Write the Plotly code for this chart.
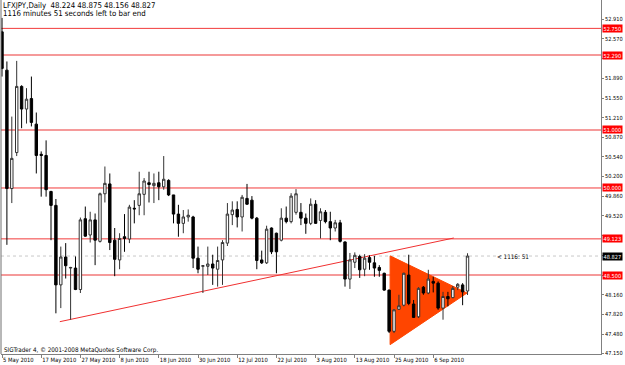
import plotly.graph_objects as go

# ---- data ----
opens = [52.69, 52.03, 49.99, 50.61, 51.75, 51.36, 51.54, 51.10, 50.58, 50.56,
         49.94, 49.70, 48.33, 48.81, 48.62, 48.62, 48.25, 49.47, 49.19, 49.45,
         49.08, 49.90, 50.07, 49.10, 48.76, 49.16, 49.12, 49.65, 49.70, 49.89,
         50.09, 50.04, 50.09, 50.02, 50.13, 49.88, 49.55, 49.39, 49.50, 49.50,
         48.79, 48.65, 48.65, 48.69, 48.60, 48.76, 49.05, 49.54, 49.63, 49.50,
         49.82, 49.79, 49.48, 48.76, 48.71, 49.31, 49.22, 49.10, 49.48, 49.42,
         49.58, 49.58, 49.48, 49.39, 49.72, 49.44, 49.58, 49.42, 49.31, 49.40,
         49.07, 48.43, 48.72, 48.82, 48.60, 48.80, 48.71, 48.63, 48.53, 48.24,
         47.53, 47.91, 47.98, 48.50, 48.00, 47.78, 48.29, 48.19, 48.39, 48.36,
         47.93, 48.13, 48.11, 48.29, 48.33, 48.224]
highs = [52.93, 52.18, 51.23, 52.19, 51.77, 51.72, 51.92, 51.30, 50.63, 50.82,
         49.95, 49.81, 48.99, 49.05, 48.64, 48.82, 49.49, 49.68, 49.59, 49.56,
         49.92, 50.37, 50.25, 49.31, 49.22, 49.55, 49.71, 49.79, 50.28, 50.17,
         50.28, 50.25, 50.28, 50.55, 50.15, 49.88, 49.71, 49.62, 49.63, 49.52,
         48.99, 48.67, 48.99, 48.85, 48.99, 49.10, 49.74, 49.77, 49.77, 49.88,
         50.07, 49.86, 49.50, 48.92, 49.35, 49.32, 49.23, 49.65, 49.68, 49.91,
         49.98, 49.74, 49.56, 49.82, 49.79, 49.65, 49.62, 49.59, 49.45, 49.45,
         49.08, 48.88, 48.89, 48.85, 48.86, 48.84, 48.83, 48.67, 48.54, 48.25,
         47.91, 48.16, 48.54, 48.85, 48.07, 48.29, 48.31, 48.59, 48.47, 48.39,
         48.21, 48.21, 48.31, 48.36, 48.36, 48.875]
lows = [51.92, 49.02, 49.74, 50.55, 51.03, 51.11, 51.06, 50.25, 49.85, 49.85,
        49.10, 47.84, 47.93, 48.44, 47.73, 48.24, 48.19, 49.16, 49.06, 48.67,
        49.06, 49.75, 48.93, 48.48, 48.60, 48.90, 49.05, 49.39, 49.53, 49.53,
        49.75, 49.74, 49.79, 49.97, 49.86, 49.39, 49.16, 49.22, 49.42, 48.62,
        48.53, 48.19, 48.50, 48.33, 48.30, 48.33, 49.00, 49.36, 49.32, 49.25,
        49.71, 49.46, 48.60, 48.69, 48.69, 48.86, 48.53, 49.08, 49.39, 49.39,
        49.54, 49.36, 49.21, 49.36, 49.38, 49.13, 49.39, 49.10, 49.25, 49.06,
        48.30, 48.26, 48.62, 48.45, 48.48, 48.59, 48.47, 48.47, 48.23, 47.50,
        47.50, 47.90, 47.96, 47.98, 47.76, 47.76, 48.16, 48.17, 48.20, 47.90,
        47.73, 47.96, 48.10, 48.24, 47.98, 48.156]
closes = [52.06, 49.99, 50.51, 51.75, 51.36, 51.53, 51.13, 50.56, 50.56, 49.97,
          49.70, 48.33, 48.81, 48.66, 48.63, 48.25, 49.45, 49.17, 49.45, 49.10,
          49.90, 50.08, 49.06, 48.77, 49.13, 49.13, 49.67, 49.64, 49.90, 50.12,
          50.06, 50.08, 50.02, 50.15, 49.88, 49.55, 49.39, 49.50, 49.53, 48.79,
          48.60, 48.66, 48.69, 48.62, 48.75, 49.06, 49.55, 49.62, 49.50, 49.84,
          49.72, 49.48, 48.75, 48.71, 49.29, 48.90, 48.90, 49.48, 49.42, 49.86,
          49.90, 49.48, 49.39, 49.72, 49.39, 49.59, 49.42, 49.31, 49.40, 49.08,
          48.43, 48.76, 48.84, 48.59, 48.79, 48.72, 48.62, 48.58, 48.24, 47.53,
          47.90, 47.97, 48.53, 48.01, 47.77, 48.27, 48.19, 48.43, 48.36, 47.93,
          48.13, 48.09, 48.27, 48.34, 48.21, 48.827]

date_labels = ["5 May 2010", "17 May 2010", "27 May 2010", "8 Jun 2010",
               "18 Jun 2010", "30 Jun 2010", "12 Jul 2010", "22 Jul 2010",
               "3 Aug 2010", "13 Aug 2010", "25 Aug 2010", "6 Sep 2010"]
bars_per_label = 8

price_ticks = [52.910, 52.570, 52.230, 51.890, 51.550, 51.210, 50.870, 50.540,
               50.200, 49.860, 49.520, 49.180, 48.840, 48.500, 48.160, 47.820,
               47.480, 47.150]
# ticks whose labels are covered by the price boxes in the reference
covered_ticks = [52.230, 49.180, 48.840, 48.500]

hlines_strong = [52.750, 50.000, 49.123]
hlines_light = [52.290, 51.000, 48.500]
current_price = 48.827

trend_x = [11.8, 92.2]
trend_y = [47.696, 49.138]
tri_x = [79.2, 79.2, 94.9]
tri_y = [48.83, 47.30, 48.19]

title_line1 = "LFXJPY,Daily  48.224 48.875 48.156 48.827"
title_line2 = "1116 minutes 51 seconds left to bar end"
copyright_text = "SIGTrader 4, © 2001-2008 MetaQuotes Software Corp."
timer_text = "&lt; 1116: 51"

# ---- figure ----
x = list(range(len(opens)))
font = "Liberation Sans Narrow, DejaVu Sans Condensed, Liberation Sans, Arial"

fig = go.Figure()
fig.add_trace(go.Candlestick(
    x=x, open=opens, high=highs, low=lows, close=closes,
    increasing=dict(line=dict(color="#333333", width=1), fillcolor="#FFFFFF"),
    decreasing=dict(line=dict(color="#000000", width=1), fillcolor="#000000"),
    whiskerwidth=0, hoverinfo="skip", showlegend=False,
))

shapes = []
for v in hlines_strong:
    shapes.append(dict(type="line", xref="paper", x0=0, x1=1, yref="y", y0=v, y1=v,
                       line=dict(color="#F23B3B", width=1), layer="below"))
for v in hlines_light:
    shapes.append(dict(type="line", xref="paper", x0=0, x1=1, yref="y", y0=v, y1=v,
                       line=dict(color="#F59A9A", width=2), layer="below"))
shapes.append(dict(type="line", xref="paper", x0=0, x1=1, yref="y",
                   y0=current_price, y1=current_price,
                   line=dict(color="#C8C8C8", width=1, dash="dot"), layer="below"))
shapes.append(dict(type="line", xref="x", yref="y", x0=trend_x[0], x1=trend_x[1],
                   y0=trend_y[0], y1=trend_y[1],
                   line=dict(color="#F03030", width=1), layer="below"))
path = "M {} {} L {} {} L {} {} Z".format(tri_x[0], tri_y[0], tri_x[1], tri_y[1],
                                          tri_x[2], tri_y[2])
shapes.append(dict(type="path", xref="x", yref="y", path=path,
                   fillcolor="#FF4500", line=dict(color="#FF4500", width=1),
                   layer="below"))
# left border of the chart frame
shapes.append(dict(type="line", xref="paper", yref="paper", x0=0, x1=0, y0=0, y1=1,
                   line=dict(color="#707070", width=1)))

annotations = []
for v in hlines_strong + hlines_light:
    annotations.append(dict(xref="paper", x=1, xanchor="left", xshift=1,
                            yref="y", y=v, yanchor="middle",
                            text="{:.3f}".format(v), showarrow=False,
                            bgcolor="#FF0000", borderpad=0.5,
                            font=dict(family=font, size=5.6, color="#FFFFFF")))
annotations.append(dict(xref="paper", x=1, xanchor="left", xshift=1,
                        yref="y", y=current_price, yanchor="middle",
                        text="{:.3f}".format(current_price), showarrow=False,
                        bgcolor="#000000", borderpad=0.5,
                        font=dict(family=font, size=5.6, color="#FFFFFF")))
annotations.append(dict(xref="x", x=101, xanchor="left", xshift=-2,
                        yref="y", y=current_price,
                        yanchor="middle", text=timer_text, showarrow=False,
                        font=dict(family=font, size=6.3, color="#000000")))
annotations.append(dict(xref="paper", x=0, xanchor="left", xshift=0,
                        yref="paper", y=1, yanchor="middle", yshift=-5,
                        text=title_line1, showarrow=False,
                        font=dict(family=font, size=7.8, color="#000000")))
annotations.append(dict(xref="paper", x=0, xanchor="left", xshift=0,
                        yref="paper", y=1, yanchor="middle", yshift=-13,
                        text=title_line2, showarrow=False,
                        font=dict(family=font, size=7.8, color="#000000")))
annotations.append(dict(xref="paper", x=0, xanchor="left", xshift=1,
                        yref="paper", y=0, yanchor="middle", yshift=4,
                        text=copyright_text, showarrow=False,
                        font=dict(family=font, size=6.3, color="#000000")))

tickvals_x = [i * bars_per_label for i in range(len(date_labels))]
ticktext_y = ["" if v in covered_ticks else "{:.3f}".format(v) for v in price_ticks]

fig.update_layout(
    width=625, height=365,
    margin=dict(l=1, r=24, t=0, b=11, autoexpand=False),
    paper_bgcolor="#FFFFFF", plot_bgcolor="#FFFFFF",
    shapes=shapes, annotations=annotations,
    showlegend=False,
    xaxis=dict(range=[-0.204, 122.24], rangeslider=dict(visible=False),
               showgrid=False, zeroline=False, automargin=False,
               showline=True, linecolor="#808080", linewidth=1,
               tickmode="array", tickvals=tickvals_x, ticktext=date_labels,
               tickangle=0,
               ticks="outside", ticklen=3, tickcolor="#808080",
               ticklabelposition="outside right",
               tickfont=dict(family=font, size=5.8, color="#000000")),
    yaxis=dict(range=[47.139, 53.239], side="right",
               showgrid=False, zeroline=False, automargin=False,
               showline=True, linecolor="#808080", linewidth=1,
               tickmode="array", tickvals=price_ticks, ticktext=ticktext_y,
               ticks="outside", ticklen=2, tickcolor="#808080",
               tickfont=dict(family=font, size=5.6, color="#000000")),
)

fig.write_html("out.html")
